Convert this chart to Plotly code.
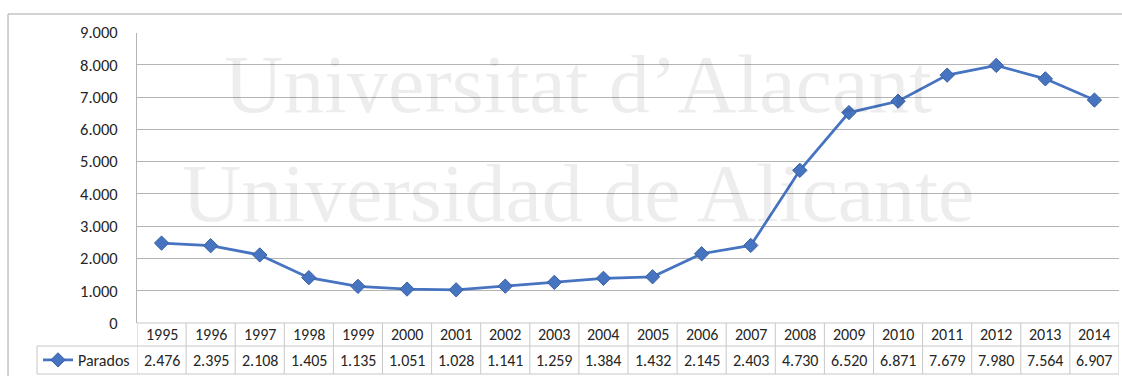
import plotly.graph_objects as go

# Unemployed people per year (Parados)
years = [str(y) for y in range(1995, 2015)]
parados = [2476, 2395, 2108, 1405, 1135, 1051, 1028, 1141, 1259, 1384,
           1432, 2145, 2403, 4730, 6520, 6871, 7679, 7980, 7564, 6907]
series_name = "Parados"
y_ticks = [0, 1000, 2000, 3000, 4000, 5000, 6000, 7000, 8000, 9000]
watermark_lines = ["Universitat d\u2019Alacant", "Universidad de Alicante"]

W, H = 1122, 376
BLUE = "#4674C1"
GRID = "#b4b4b4"
CELL = "#c8c8c8"
FONT = "Carlito, Lato, sans-serif"
TXT = "#262626"


def px(x):
    return x / W


def py(y):
    return (H - y) / H


# pixel geometry of the plot area and data table
plot_l, plot_r = 137, 1119
y_zero, y_top = 323, 32.5
tbl_top, tbl_mid, tbl_bot = 323, 346, 374
legend_l = 37


def fmt(v):
    return f"{v:,}".replace(",", ".")


fig = go.Figure()
fig.add_trace(go.Scatter(
    x=years, y=parados, name=series_name, mode="lines+markers",
    line=dict(color=BLUE, width=2.75),
    marker=dict(symbol="diamond", size=11, color=BLUE,
                line=dict(color="#3A5FA0", width=1)),
    showlegend=True,
))

shapes = []
annotations = []

# outer chart frame
shapes.append(dict(type="rect", xref="paper", yref="paper",
                   x0=px(8), x1=1.02, y0=-0.02, y1=py(14),
                   line=dict(color="#a6a6a6", width=1), layer="below"))

# data table grid
n = len(years)
shapes.append(dict(type="line", xref="x", yref="paper", x0=-0.5, x1=n - 0.5,
                   y0=py(tbl_top), y1=py(tbl_top), line=dict(color=CELL, width=1)))
for yy in (tbl_mid, tbl_bot):
    shapes.append(dict(type="line", xref="paper", yref="paper",
                       x0=px(legend_l), x1=px(plot_r),
                       y0=py(yy), y1=py(yy), line=dict(color=CELL, width=1)))
for k in range(n + 1):
    shapes.append(dict(type="line", xref="x", yref="paper",
                       x0=k - 0.5, x1=k - 0.5, y0=py(tbl_top), y1=py(tbl_bot),
                       line=dict(color=CELL, width=1)))
shapes.append(dict(type="line", xref="paper", yref="paper",
                   x0=px(legend_l), x1=px(legend_l), y0=py(tbl_mid), y1=py(tbl_bot),
                   line=dict(color=CELL, width=1)))

# table text: years and values, one column per category
for k, (yr, v) in enumerate(zip(years, parados)):
    annotations.append(dict(x=k, xref="x", y=py((tbl_top + tbl_mid) / 2), yref="paper",
                            text=yr, showarrow=False, yanchor="middle",
                            font=dict(family=FONT, size=16, color=TXT)))
    annotations.append(dict(x=k, xref="x", y=py((tbl_mid + tbl_bot) / 2), yref="paper",
                            text=fmt(v), showarrow=False, yanchor="middle",
                            font=dict(family=FONT, size=16, color=TXT)))

# watermark
for txt, yc in zip(watermark_lines, (84, 193)):
    annotations.append(dict(x=px(578), xref="paper", y=py(yc), yref="paper",
                            text=txt, showarrow=False, xanchor="center", yanchor="middle",
                            font=dict(family="Liberation Serif, serif", size=82,
                                      color="rgba(0,0,0,0.07)")))

fig.update_layout(
    width=W, height=H,
    margin=dict(l=0, r=0, t=0, b=0, autoexpand=False),
    paper_bgcolor="white", plot_bgcolor="white",
    separators=",.",
    font=dict(family=FONT, size=16, color=TXT),
    xaxis=dict(domain=[px(plot_l), px(plot_r)], type="category",
               range=[-0.5, n - 0.5], showticklabels=False, showgrid=False,
               zeroline=False, showline=False, fixedrange=True, automargin=False),
    yaxis=dict(domain=[py(y_zero), py(y_top)], range=[0, 9000],
               tickvals=y_ticks, tickformat=",d", showgrid=True,
               gridcolor=GRID, gridwidth=1, zeroline=False,
               showline=True, linecolor=GRID, linewidth=1,
               ticks="", ticklabelstandoff=15, automargin=False,
               tickfont=dict(family=FONT, size=16.5, color=TXT)),
    legend=dict(x=px(legend_l + 1), y=py((tbl_mid + tbl_bot) / 2),
                xanchor="left", yanchor="middle", bgcolor="rgba(0,0,0,0)",
                borderwidth=0, itemwidth=30, tracegroupgap=0,
                font=dict(family=FONT, size=16, color=TXT)),
    shapes=shapes,
    annotations=annotations,
)

fig.write_html(
    "out.html",
    post_script="document.body.style.margin='0';document.body.style.overflow='hidden';",
)
